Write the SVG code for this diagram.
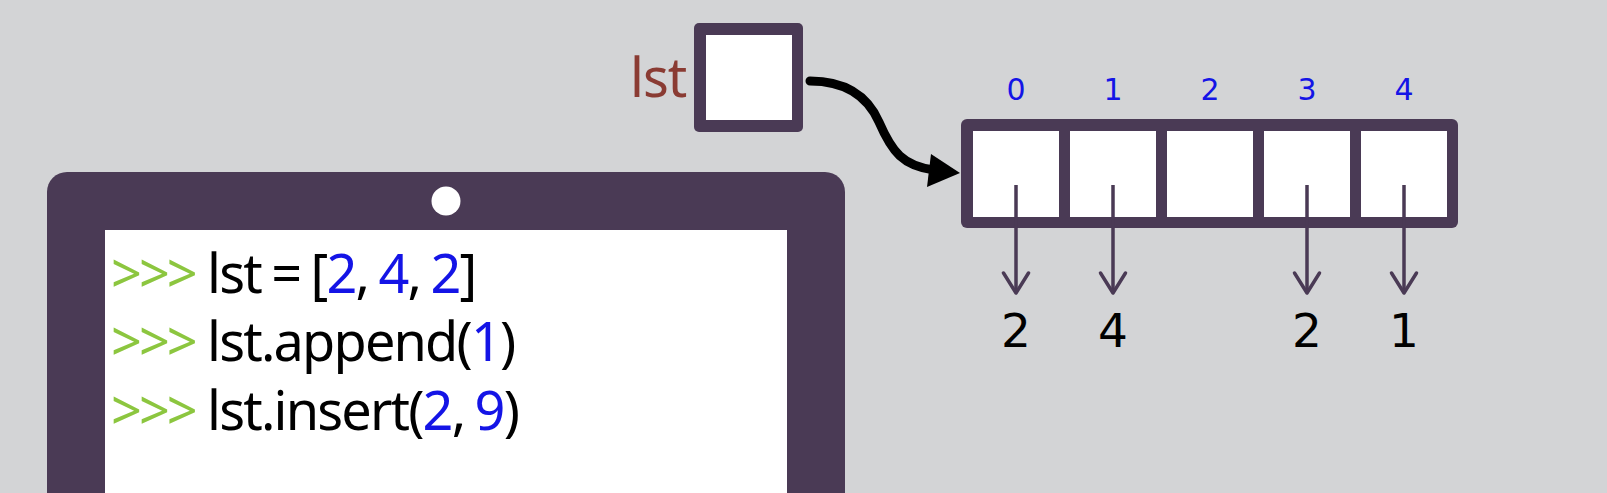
<svg xmlns="http://www.w3.org/2000/svg" width="1607" height="493" viewBox="0 0 1607 493">
  <defs>
    <style>
      .frame { fill: #4a3a55; }
      .cell { fill: #ffffff; }
      .code { font-family: "Noto Sans", "Open Sans", sans-serif; font-size: 54px; fill: #000000; letter-spacing: -1.8px; word-spacing: -2px; }
      .prompt { font-family: "Noto Sans", "Open Sans", sans-serif; font-size: 54px; fill: #8cc63f; letter-spacing: -3px; }
      .num { fill: #1414e6; }
      .idx { font-family: "DejaVu Sans", sans-serif; font-size: 30px; fill: #1414e6; text-anchor: middle; }
      .val { font-family: "DejaVu Sans", sans-serif; font-size: 47px; fill: #000000; text-anchor: middle; }
      .name { font-family: "Noto Sans", "Open Sans", sans-serif; font-size: 54px; fill: #8a3b33; letter-spacing: -1px; }
      .ptr { stroke: #4a3a55; stroke-width: 3.5; fill: none; marker-end: url(#chev); }
    </style>
    <marker id="chev" markerUnits="userSpaceOnUse" markerWidth="32" markerHeight="32" viewBox="-26 -16 32 32" refX="0" refY="0" orient="auto">
      <polyline points="-20,-12.5 0,0 -20,12.5" fill="none" stroke="#4a3a55" stroke-width="3.5" stroke-linecap="round" stroke-linejoin="round"/>
    </marker>
  </defs>

  <rect width="1607" height="493" fill="#d3d4d6"/>

  <g id="monitor">
    <rect class="frame" x="47" y="172" width="798" height="360" rx="20"/>
    <rect class="cell" x="105" y="230" width="682" height="300"/>
    <circle cx="446" cy="201" r="14.5" fill="#ffffff"/>
    <text class="prompt" x="111" y="293">&gt;&gt;&gt;</text>
    <text class="prompt" x="111" y="361">&gt;&gt;&gt;</text>
    <text class="prompt" x="111" y="430">&gt;&gt;&gt;</text>
    <text class="code" x="207" y="293">lst = [<tspan class="num">2</tspan>, <tspan class="num">4</tspan>, <tspan class="num">2</tspan>]</text>
    <text class="code" x="207" y="361">lst.append(<tspan class="num">1</tspan>)</text>
    <text class="code" x="207" y="430">lst.insert(<tspan class="num">2</tspan>, <tspan class="num">9</tspan>)</text>
  </g>

  <g id="lst-var">
    <text class="name" x="630" y="97">lst</text>
    <rect class="frame" x="694" y="23" width="109" height="109" rx="5"/>
    <rect class="cell" x="706" y="35" width="86" height="85"/>
  </g>

  <g id="list-array">
    <rect class="frame" x="961" y="119" width="497" height="109" rx="6"/>
    <rect class="cell" x="973" y="131" width="86" height="86"/>
    <rect class="cell" x="1070" y="131" width="86" height="86"/>
    <rect class="cell" x="1167" y="131" width="86" height="86"/>
    <rect class="cell" x="1264" y="131" width="86" height="86"/>
    <rect class="cell" x="1361" y="131" width="86" height="86"/>
    <text class="idx" x="1016" y="100">0</text>
    <text class="idx" x="1113" y="100">1</text>
    <text class="idx" x="1210" y="100">2</text>
    <text class="idx" x="1307" y="100">3</text>
    <text class="idx" x="1404" y="100">4</text>
  </g>

  <g id="values">
    <text class="val" x="1016" y="347">2</text>
    <text class="val" x="1113" y="347">4</text>
    <text class="val" x="1307" y="347">2</text>
    <text class="val" x="1404" y="347">1</text>
  </g>

  <g id="connectors">
    <path d="M810,81 C846,81 868,97 879,122 C892,152 903,166 934,170" fill="none" stroke="#000000" stroke-width="9" stroke-linecap="round"/>
    <polygon points="960,173 931,154 927,187" fill="#000000"/>
    <line class="ptr" x1="1016" y1="185" x2="1016" y2="293"/>
    <line class="ptr" x1="1113" y1="185" x2="1113" y2="293"/>
    <line class="ptr" x1="1307" y1="185" x2="1307" y2="293"/>
    <line class="ptr" x1="1404" y1="185" x2="1404" y2="293"/>
  </g>
</svg>
